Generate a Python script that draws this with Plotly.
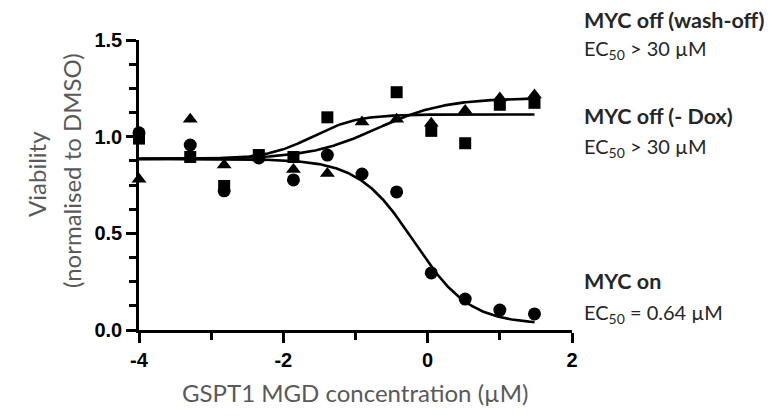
import numpy as np
import plotly.graph_objects as go

# ---- data ----
log_conc = [-4.0, -3.29, -2.82, -2.34, -1.86, -1.39, -0.91, -0.43, 0.05, 0.52, 1.0, 1.48]
myc_on = [1.02, 0.957, 0.72, 0.89, 0.776, 0.905, 0.807, 0.714, 0.295, 0.16, 0.103, 0.083]
myc_off_dox = [0.99, 0.895, 0.745, 0.905, 0.895, 1.10, None, 1.23, 1.03, 0.966, 1.165, 1.175]
myc_off_wash = [0.78, 1.09, 0.854, 0.89, 0.83, 0.81, 1.076, 1.09, 1.07, 1.135, 1.20, 1.215]

# four-parameter logistic fit parameters: bottom, top, logEC50, hill
fit_on = [0.03, 0.885, -0.19, -1.13]
fit_off_dox = [0.885, 1.115, -1.6, 1.4]
fit_off_wash = [0.885, 1.20, -0.7, 0.92]

x_ticks = [-4, -2, 0, 2]
x_ticktext = ["-4", "-2", "0", "2"]
x_minor = [-3, -1, 1]
y_ticks = [0, 0.5, 1.0, 1.5]
y_ticktext = ["0.0", "0.5", "1.0", "1.5"]

label_texts = ["<b>MYC off (wash-off)</b>", "EC<sub>50</sub> > 30 µM",
               "<b>MYC off (- Dox)</b>", "EC<sub>50</sub> > 30 µM",
               "<b>MYC on</b>", "EC<sub>50</sub> = 0.64 µM"]
label_bold = [True, False, True, False, True, False]

W, H = 776, 418
L, R, T, B = 139, 204, 40, 88
PW, PH = W - L - R, H - T - B


def px(x):
    return (x - L) / PW


def py(y):
    return (H - B - y) / PH


label_y_px = [20, 50, 116, 147, 281, 313]


def logistic(x, p):
    bottom, top, mid, hill = p
    return bottom + (top - bottom) / (1 + 10 ** ((mid - x) * hill))


xs = np.linspace(log_conc[0], log_conc[-1], 300)

fig = go.Figure()
for p in (fit_on, fit_off_dox, fit_off_wash):
    fig.add_trace(go.Scatter(x=xs, y=logistic(xs, p), mode="lines",
                             line=dict(color="black", width=2.6),
                             showlegend=False, hoverinfo="skip"))

for vals, sym, size in ((myc_on, "circle", 13), (myc_off_dox, "square", 12),
                        (myc_off_wash, "triangle-up", 13)):
    fig.add_trace(go.Scatter(x=log_conc, y=vals, mode="markers",
                             marker=dict(symbol=sym, size=size, color="black",
                                         line=dict(width=0)),
                             cliponaxis=False, showlegend=False))

tickfont = dict(family="Liberation Sans", size=20, color="black", weight="bold")

fig.update_xaxes(range=[-4, 2], tickmode="array", tickvals=x_ticks, ticktext=x_ticktext,
                 ticks="outside", ticklen=10, tickwidth=2.5, tickcolor="black",
                 showline=True, linewidth=2.5, linecolor="black",
                 showgrid=False, zeroline=False, tickfont=tickfont,
                 minor=dict(tickmode="array", tickvals=x_minor, ticks="outside",
                            ticklen=7, tickwidth=2.5, tickcolor="black"))
fig.update_yaxes(range=[0, 1.5], tickmode="array", tickvals=y_ticks, ticktext=y_ticktext,
                 ticks="outside", ticklen=10, tickwidth=2.5, tickcolor="black",
                 showline=True, linewidth=2.5, linecolor="black",
                 showgrid=False, zeroline=False, tickfont=tickfont,
                 minor=dict(tickmode="linear", tick0=0, dtick=0.125, ticks="outside",
                            ticklen=7, tickwidth=2.5, tickcolor="black"))

for text, ypx, bold in zip(label_texts, label_y_px, label_bold):
    fig.add_annotation(x=px(582), y=py(ypx), xref="paper", yref="paper", text=text,
                       showarrow=False, xanchor="left", yanchor="middle",
                       font=dict(family="Lato", size=21.5 if bold else 20, color="#262626"))

title_font = dict(family="Lato", size=24, color="#595959")
fig.add_annotation(x=px(36), y=py(174), xref="paper", yref="paper",
                   text="Viability", textangle=-90, showarrow=False,
                   xanchor="center", yanchor="middle", font=title_font)
fig.add_annotation(x=px(71), y=py(171), xref="paper", yref="paper",
                   text="(normalised to DMSO)", textangle=-90, showarrow=False,
                   xanchor="center", yanchor="middle", font=title_font)
fig.add_annotation(x=px(355), y=py(392), xref="paper", yref="paper",
                   text="GSPT1 MGD concentration (µM)", showarrow=False,
                   xanchor="center", yanchor="middle", font=title_font)

fig.update_layout(width=W, height=H, margin=dict(l=L, r=R, t=T, b=B),
                  plot_bgcolor="white", paper_bgcolor="white", showlegend=False)

fig.write_html("out.html")
